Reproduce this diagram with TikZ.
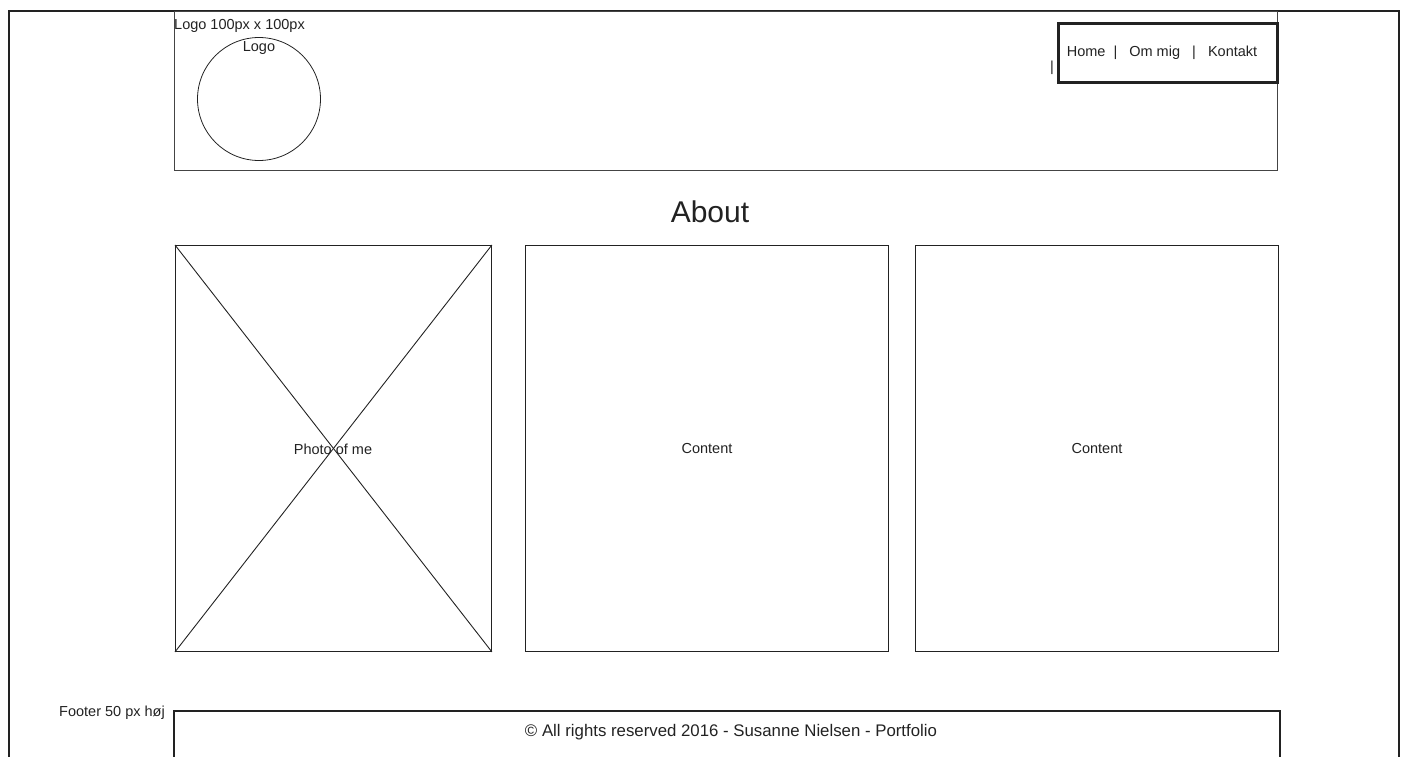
\documentclass[tikz,border=0pt]{standalone}
\usepackage{fontspec}
\setmainfont{Liberation Sans}
\definecolor{ink}{HTML}{222222}
\definecolor{frame}{HTML}{444444}
\begin{document}
\begin{tikzpicture}[x=1pt,y=-1pt,
  thin line/.style={draw=ink,line width=0.9pt},
  thick line/.style={draw=ink,line width=2.8pt},
  lbl/.style={text=ink,font=\fontsize{14.5}{17}\selectfont,inner sep=0pt},
  box/.style={thin line,fill=none}]
\useasboundingbox (0,0) rectangle (1405,757);
% outer frame
\draw[thick line] (9,758) -- (9,11) -- (1399,11) -- (1399,758);
% header
\node[draw=frame,line width=1.2pt,minimum width=1103pt,minimum height=159pt,anchor=north west,inner sep=0pt] (header) at (174,11) {};
\node[lbl,anchor=north west] (logotxt) at (174,19) {Logo 100px x 100px};
\node[draw=ink,line width=0.8pt,circle,minimum size=123pt,inner sep=0pt] (logo) at (259,99) {};
\node[lbl] (logolbl) at (259,48) {Logo};
% nav
\node[thick line,minimum width=219pt,minimum height=59pt,anchor=north west,inner sep=0pt] (nav) at (1057,22) {};
\node[lbl] (navtxt) at (1162,53) {Home\ \ |\ \ \ Om mig\ \ \ |\ \ \ Kontakt};
\node[lbl] (bar) at (1052,68) {|};
% about
\node[text=ink,font=\fontsize{30}{34}\selectfont,inner sep=0pt] (about) at (710,212) {About};
% photo
\node[box,minimum width=316pt,minimum height=406pt,anchor=north west,inner sep=0pt] (photo) at (175,245) {};
\draw[thin line] (photo.north west) -- (photo.south east);
\draw[thin line] (photo.north east) -- (photo.south west);
\node[lbl] (phototxt) at (333,449) {Photo of me};
% content boxes
\node[box,minimum width=363pt,minimum height=406pt,anchor=north west,inner sep=0pt] (c1) at (525,245) {};
\node[lbl] (c1txt) at (c1.center) {Content};
\node[box,minimum width=363pt,minimum height=406pt,anchor=north west,inner sep=0pt] (c2) at (915,245) {};
\node[lbl] (c2txt) at (c2.center) {Content};
% footer
\coordinate (fbl) at (174,758);
\coordinate (ftl) at (174,711);
\coordinate (ftr) at (1280,711);
\coordinate (fbr) at (1280,758);
\draw[thick line] (fbl) -- (ftl) -- (ftr) -- (fbr);
\node[lbl,anchor=east] (footlbl) at (165,713) {Footer 50 px høj};
\node[text=ink,font=\fontsize{16.8}{20}\selectfont,inner sep=0pt] (foottxt) at (731,732) {© All rights reserved 2016 - Susanne Nielsen - Portfolio};
\end{tikzpicture}
\end{document}
